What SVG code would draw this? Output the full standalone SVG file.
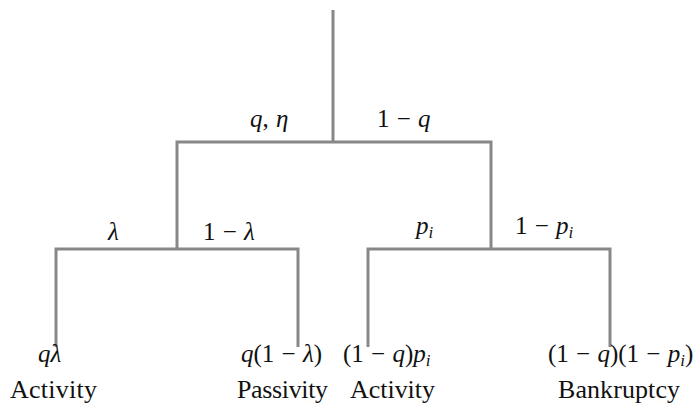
<svg xmlns="http://www.w3.org/2000/svg" width="694" height="409" viewBox="0 0 694 409">
<style>
.ln{stroke:#888;stroke-width:3;fill:none;stroke-linecap:butt}
.m{font-family:"Liberation Serif","DejaVu Serif",serif;font-size:25px;fill:#111;word-spacing:1px}
.i{font-style:italic}
.s{font-size:17px;font-style:italic}
.w{font-family:"Liberation Serif","DejaVu Serif",serif;font-size:26px;fill:#111}
</style>
<rect width="694" height="409" fill="#fff"/>
<g id="connectors">
<path class="ln" d="M333 10V142M177 142H491M177 140.5V249M491 140.5V249"/>
<path class="ln" d="M56 249H298M56 247.5V347M298 247.5V347"/>
<path class="ln" d="M368 249H610M368 247.5V347M610 247.5V347"/>
</g>
<g id="edge-labels">
<text class="m" x="250" y="127"><tspan class="i">q</tspan>, <tspan class="i">η</tspan></text>
<text class="m" x="377" y="127">1 − <tspan class="i">q</tspan></text>
<text class="m" x="108" y="240"><tspan class="i">λ</tspan></text>
<text class="m" x="203" y="240">1 − <tspan class="i">λ</tspan></text>
<text class="m" x="416" y="234"><tspan class="i">p</tspan><tspan class="s" dy="4">i</tspan></text>
<text class="m" x="515" y="234">1 − <tspan class="i">p</tspan><tspan class="s" dy="4">i</tspan></text>
</g>
<g id="leaf-activity-1">
<text class="m" x="38" y="362"><tspan class="i">qλ</tspan></text>
<text class="w" x="10" y="398" textLength="87">Activity</text>
</g>
<g id="leaf-passivity">
<text class="m" x="241" y="362"><tspan class="i">q</tspan>(1 − <tspan class="i">λ</tspan>)</text>
<text class="w" x="237" y="398" textLength="91">Passivity</text>
</g>
<g id="leaf-activity-2">
<text class="m" x="343" y="362">(1 − <tspan class="i">q</tspan>)<tspan class="i">p</tspan><tspan class="s" dy="4">i</tspan></text>
<text class="w" x="350" y="398" textLength="85">Activity</text>
</g>
<g id="leaf-bankruptcy">
<text class="m" x="548" y="362">(1 − <tspan class="i">q</tspan>)(1 − <tspan class="i">p</tspan><tspan class="s" dy="4">i</tspan><tspan dy="-4">)</tspan></text>
<text class="w" x="558" y="398" textLength="122">Bankruptcy</text>
</g>
</svg>
